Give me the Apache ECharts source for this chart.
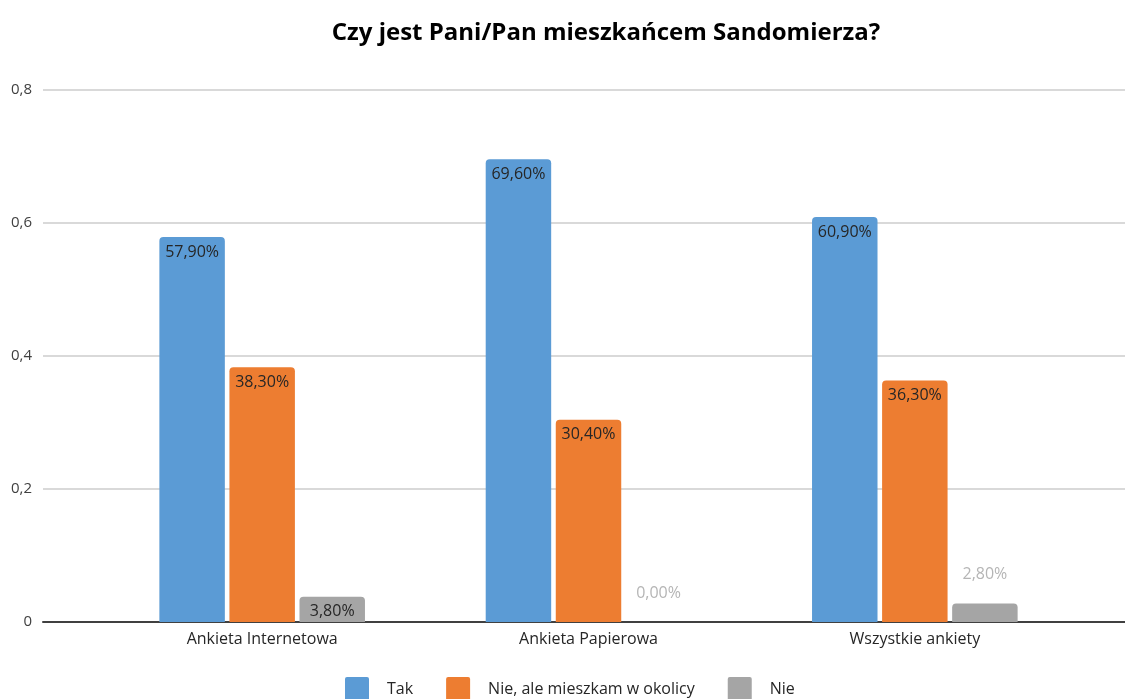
<!DOCTYPE html>
<html>
<head>
<meta charset="utf-8">
<script src="https://cdn.jsdelivr.net/npm/echarts@6/dist/echarts.min.js"></script>
<style>
  html, body { margin: 0; padding: 0; background: #fff; }
  #chart { width: 1125px; height: 699px; }
</style>
</head>
<body>
<div id="chart"></div>
<script>
const categories = ['Ankieta Internetowa', 'Ankieta Papierowa', 'Wszystkie ankiety'];
const seriesNames = ['Tak', 'Nie, ale mieszkam w okolicy', 'Nie'];
const tak = [0.579, 0.696, 0.609];
const nieOkolica = [0.383, 0.304, 0.363];
const nie = [0.038, 0.000, 0.028];
const yTicks = [0, 0.2, 0.4, 0.6, 0.8];

const colors = ['#5b9bd5', '#ed7d31', '#a5a5a5'];
const FONT = 'Open Sans';

const fmtPct = v => (v * 100).toFixed(2).replace('.', ',') + '%';
const fmtTick = v => (v === 0 ? '0' : String(Math.round(v * 10) / 10).replace('.', ','));

const insideLabel = {
  show: true, position: 'insideTop', distance: 7,
  color: '#262626', fontFamily: FONT, fontSize: 16,
  formatter: p => fmtPct(p.value)
};
// small values that do not fit inside their bar get an outside label
function withLabels(values) {
  return values.map(v => {
    if (v * 665 >= 24) return { value: v };
    return {
      value: v,
      label: { position: 'top', distance: 21, color: '#b5b5b5' }
    };
  });
}

const barBase = {
  type: 'bar', xAxisIndex: 0, yAxisIndex: 0,
  barGap: '7%', barCategoryGap: '37%',
  label: insideLabel
};

const chart = echarts.init(document.getElementById('chart'), null, { renderer: 'canvas' });
chart.setOption({
  animation: false,
  backgroundColor: '#ffffff',
  title: {
    text: 'Czy jest Pani/Pan mieszkańcem Sandomierza?',
    left: 601, top: 16, textAlign: 'center',
    textStyle: { fontFamily: FONT, fontWeight: 'bold', fontSize: 24, color: '#000' }
  },
  legend: {
    top: 677, left: 345, padding: 0,
    itemWidth: 24, itemHeight: 24, itemGap: 33,
    icon: 'path://M2,0 L22,0 Q24,0 24,2 L24,22 Q24,24 22,24 L2,24 Q0,24 0,22 L0,2 Q0,0 2,0 Z',
    textStyle: { fontFamily: FONT, fontSize: 16, color: '#262626', padding: [0, 0, 0, 13] },
    data: seriesNames
  },
  grid: [
    { left: 99, right: 47, top: 90, bottom: 77 },
    { left: 43, right: 0, top: 90, bottom: 77 }
  ],
  xAxis: [
    {
      gridIndex: 0, type: 'category', data: categories,
      axisLine: { show: false }, axisTick: { show: false },
      axisLabel: { fontFamily: FONT, fontSize: 16, color: '#262626', margin: 9 }
    },
    {
      gridIndex: 1, type: 'category', data: [''],
      axisLine: { show: true, lineStyle: { color: '#404040', width: 2 } },
      axisTick: { show: false }, axisLabel: { show: false }
    }
  ],
  yAxis: [
    {
      gridIndex: 0, type: 'value', min: 0, max: 0.8, interval: 0.2,
      show: false, splitLine: { show: false }
    },
    {
      gridIndex: 1, type: 'value', min: yTicks[0], max: yTicks[yTicks.length - 1], interval: 0.2,
      axisLine: { show: false }, axisTick: { show: false },
      axisLabel: { fontFamily: FONT, fontSize: 15, color: '#404040', margin: 11, formatter: fmtTick },
      splitLine: { lineStyle: { color: '#d9d9d9', width: 2 } }
    }
  ],
  series: [
    Object.assign({}, barBase, {
      name: seriesNames[0], data: withLabels(tak),
      itemStyle: { color: colors[0], borderRadius: [4, 4, 0, 0] }
    }),
    Object.assign({}, barBase, {
      name: seriesNames[1], data: withLabels(nieOkolica),
      itemStyle: { color: colors[1], borderRadius: [4, 4, 0, 0] }
    }),
    Object.assign({}, barBase, {
      name: seriesNames[2], data: withLabels(nie),
      itemStyle: { color: colors[2], borderRadius: [4, 4, 0, 0] }
    })
  ]
});
</script>
</body>
</html>
